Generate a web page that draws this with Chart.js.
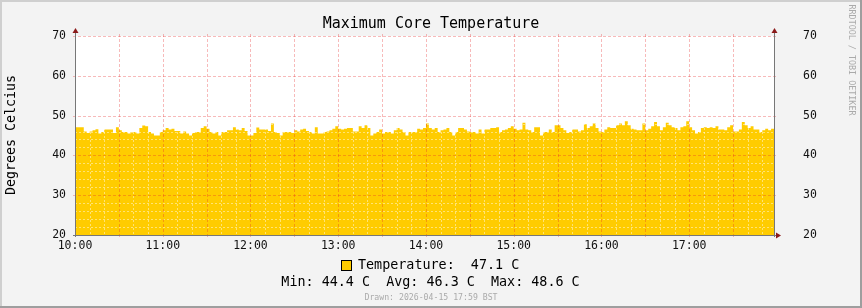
<!DOCTYPE html>
<html>
<head>
<meta charset="utf-8">
<script src="https://cdn.jsdelivr.net/npm/chart.js@4/dist/chart.umd.min.js"></script>
<style>
  html, body { margin: 0; padding: 0; background: #F3F3F3; }
  canvas { display: block; }
</style>
</head>
<body>
<canvas id="c" width="862" height="308"></canvas>
<script>
// ---- data ----
const chartTitle = 'Maximum Core Temperature';
const yAxisTitle = 'Degrees Celcius';
const watermark = 'RRDTOOL / TOBI OETIKER';
const drawnText = 'Drawn: 2026-04-15 17:59 BST';
const seriesName = 'Temperature';
const unit = 'C';
const stepMinutes = 2;          // sample spacing, minutes after 10:00
const rangeMinutes = [0, 478];  // visible time window
const hourLabels = ['10:00', '11:00', '12:00', '13:00', '14:00', '15:00', '16:00', '17:00'];
const yTickValues = [20, 30, 40, 50, 60, 70];
const statLabels = ['Min', 'Avg', 'Max'];
const statValues = [44.4, 46.3, 48.6];
const lastValue = [47.1];
const temps = [
  46.5,47.1,47.1,47.1,46.0,45.6,46.0,46.3,46.6,45.5,45.9,46.5,46.5,46.5,45.6,47.1,46.3,45.9,45.9,45.5,45.9,45.9,45.5,46.9,47.5,47.3,45.9,45.5,45.0,45.0,45.9,46.3,46.9,46.5,46.7,46.1,46.1,45.5,46.0,45.5,45.0,45.6,45.9,45.9,46.9,47.3,46.7,45.9,
  45.5,45.9,45.0,45.9,45.9,46.3,46.3,47.1,46.5,46.3,46.9,46.1,45.0,45.0,45.6,47.0,46.5,46.5,46.5,46.1,48.0,45.9,45.6,45.0,45.9,45.9,45.9,45.6,46.3,46.0,46.5,46.7,46.1,45.9,45.5,47.1,45.5,45.5,45.9,46.0,46.3,46.7,47.3,46.7,46.5,46.7,46.9,46.9,
  46.0,46.0,47.3,46.9,47.6,46.9,45.0,45.5,45.9,46.5,45.5,45.9,45.9,45.5,46.3,46.9,46.5,45.9,45.0,45.9,45.9,45.9,46.7,46.5,46.9,48.0,46.9,46.5,46.9,45.9,46.3,46.5,46.9,45.9,45.0,45.9,46.9,46.9,46.5,46.0,45.9,45.9,45.5,46.5,45.5,46.5,46.5,46.9,
  46.9,47.1,45.9,46.3,46.5,46.9,47.3,46.7,46.3,46.5,48.2,46.5,46.3,45.9,47.1,47.1,45.0,45.9,45.9,46.5,45.9,47.6,47.6,46.9,46.3,45.6,45.9,46.5,46.5,46.0,46.3,47.8,46.9,47.3,48.0,46.9,46.0,45.9,46.5,47.1,46.9,46.9,47.6,48.0,47.6,48.6,47.6,46.7,
  46.5,46.3,46.3,48.0,46.3,46.7,47.3,48.4,47.3,46.3,47.1,48.2,47.6,47.1,46.9,46.3,47.1,47.3,48.6,47.1,46.3,45.5,45.9,46.9,47.1,46.9,47.1,46.9,47.3,46.5,46.5,46.3,47.1,47.6,46.0,46.0,46.5,48.4,47.6,46.9,47.3,46.5,46.5,45.9,46.3,46.7,46.3,46.7
];

// ---- style ----
const MONO = '"DejaVu Sans Mono", "Liberation Mono", monospace';
const LW = 40, RW = 50, XH = 20;
const AREA = { left: 75, right: 774, top: 36, bottom: 235 };

const rrdPlugin = {
  id: 'rrd',
  beforeDraw(chart) {
    const { ctx, chartArea: a, width: W, height: H } = chart;
    ctx.save();
    ctx.fillStyle = '#F3F3F3'; ctx.fillRect(0, 0, W, H);
    ctx.fillStyle = '#CFCFCF'; ctx.fillRect(0, 0, W, 2); ctx.fillRect(0, 0, 2, H);
    ctx.fillStyle = '#9E9E9E'; ctx.fillRect(0, H - 2, W, 2); ctx.fillRect(W - 2, 0, 2, H);
    ctx.fillStyle = '#FFFFFF'; ctx.fillRect(a.left, a.top, a.right - a.left, a.bottom - a.top);
    ctx.restore();
  },
  afterDatasetsDraw(chart) {
    const { ctx, chartArea: a } = chart;
    const xs = chart.scales.x, ys = chart.scales.y;
    ctx.save();
    ctx.lineWidth = 1;
    // minor grid
    ctx.strokeStyle = 'rgba(255,255,255,0.45)';
    ctx.setLineDash([2, 2]);
    ctx.beginPath();
    for (let v = 22; v < 70; v += 2) {
      if (v % 10 === 0) continue;
      const y = Math.round(ys.getPixelForValue(v)) + 0.5;
      ctx.moveTo(a.left, y); ctx.lineTo(a.right, y);
    }
    for (let m = 10; m < rangeMinutes[1]; m += 10) {
      if (m % 30 === 0) continue;
      const x = Math.round(xs.getPixelForValue(m)) + 0.5;
      ctx.moveTo(x, a.top); ctx.lineTo(x, a.bottom);
    }
    ctx.stroke();
    // major grid
    ctx.strokeStyle = 'rgba(230,40,40,0.32)';
    ctx.setLineDash([3, 2]);
    ctx.beginPath();
    for (let v = 30; v <= 70; v += 10) {
      const y = Math.round(ys.getPixelForValue(v)) + 0.5;
      ctx.moveTo(a.left - 2, y); ctx.lineTo(a.right + 2, y);
    }
    for (let m = 30; m < rangeMinutes[1]; m += 30) {
      const x = Math.round(xs.getPixelForValue(m)) + 0.5;
      ctx.moveTo(x, a.top - 2); ctx.lineTo(x, a.bottom + 2);
    }
    ctx.stroke();
    ctx.setLineDash([]);
    // axes
    ctx.strokeStyle = '#777777';
    ctx.beginPath();
    ctx.moveTo(a.left + 0.5, a.bottom + 2); ctx.lineTo(a.left + 0.5, a.top - 4);
    ctx.moveTo(a.right + 0.5, a.bottom + 2); ctx.lineTo(a.right + 0.5, a.top - 4);
    ctx.moveTo(a.left - 2, a.bottom + 0.5); ctx.lineTo(a.right + 3, a.bottom + 0.5);
    ctx.stroke();
    // arrows
    ctx.fillStyle = '#8B1A1A';
    const up = (x) => { ctx.beginPath(); ctx.moveTo(x - 3, a.top - 3); ctx.lineTo(x + 3, a.top - 3); ctx.lineTo(x, a.top - 8); ctx.closePath(); ctx.fill(); };
    up(a.left + 0.5); up(a.right + 0.5);
    ctx.beginPath();
    ctx.moveTo(a.right + 2, a.bottom + 0.5 - 3); ctx.lineTo(a.right + 2, a.bottom + 0.5 + 3); ctx.lineTo(a.right + 7, a.bottom + 0.5); ctx.closePath(); ctx.fill();
    ctx.restore();
  },
  afterDraw(chart) {
    const { ctx, width: W } = chart;
    ctx.save();
    ctx.textBaseline = 'middle';
    // title
    ctx.fillStyle = '#000';
    ctx.textAlign = 'center';
    ctx.font = '15px ' + MONO;
    ctx.fillText(chartTitle, W / 2, 24.5);
    // y axis title
    ctx.save();
    ctx.translate(12, 135);
    ctx.rotate(-Math.PI / 2);
    ctx.font = '13.3px ' + MONO;
    ctx.fillText(yAxisTitle, 0, 0);
    ctx.restore();
    // watermark
    ctx.save();
    ctx.translate(851, 60);
    ctx.rotate(Math.PI / 2);
    ctx.fillStyle = '#AAAAAA';
    ctx.font = '8.4px ' + MONO;
    ctx.fillText(watermark, 0, 0);
    ctx.restore();
    // legend
    ctx.fillStyle = '#FFCC00';
    ctx.fillRect(341.5, 260.5, 10, 10);
    ctx.strokeStyle = '#000'; ctx.lineWidth = 1;
    ctx.strokeRect(341.5, 260.5, 10, 10);
    ctx.fillStyle = '#000';
    ctx.font = '13.4px ' + MONO;
    ctx.textAlign = 'left';
    ctx.fillText(seriesName + ':  ' + lastValue[0].toFixed(1) + ' ' + unit, 358, 266);
    ctx.textAlign = 'center';
    const statsLine = statLabels.map((l, i) => l + ': ' + statValues[i].toFixed(1) + ' ' + unit).join('  ');
    ctx.fillText(statsLine, 430.5, 282.5);
    ctx.fillStyle = '#AAAAAA';
    ctx.font = '8.2px ' + MONO;
    ctx.fillText(drawnText, 431, 297.5);
    ctx.restore();
  }
};

const tickFont = { family: MONO, size: 11.5 };
const yCommon = {
  type: 'linear', min: 20, max: 70,
  grid: { display: false, drawTicks: false },
  border: { display: false },
  afterBuildTicks: s => { s.ticks = yTickValues.map(v => ({ value: v })); },
  ticks: { font: tickFont, color: '#111', autoSkip: false, callback: v => String(v) }
};

new Chart(document.getElementById('c'), {
  type: 'line',
  data: {
    datasets: [{
      label: seriesName,
      data: temps.map((v, i) => ({ x: i * stepMinutes, y: v })),
      stepped: 'after',
      fill: 'start',
      backgroundColor: '#FFCC00',
      borderWidth: 0,
      pointRadius: 0
    }]
  },
  options: {
    responsive: false,
    animation: false,
    devicePixelRatio: 1,
    layout: { padding: { left: AREA.left - LW, right: 862 - AREA.right - RW, top: AREA.top, bottom: 308 - AREA.bottom - XH } },
    plugins: { legend: { display: false }, title: { display: false }, tooltip: { enabled: false } },
    scales: {
      x: {
        type: 'linear', min: rangeMinutes[0], max: rangeMinutes[1],
        grid: { display: false, drawTicks: false },
        border: { display: false },
        afterBuildTicks: s => { s.ticks = hourLabels.map((t, i) => ({ value: i * 60 })); },
        afterFit: s => { s.height = XH; },
        ticks: { font: tickFont, color: '#111', padding: 4, maxRotation: 0, autoSkip: false,
                 callback: v => hourLabels[Math.round(v / 60)] }
      },
      y: Object.assign({}, yCommon, { position: 'left', afterFit: s => { s.width = LW; },
        ticks: Object.assign({}, yCommon.ticks, { padding: 9 }) }),
      y2: Object.assign({}, yCommon, { position: 'right', afterFit: s => { s.width = RW; },
        ticks: Object.assign({}, yCommon.ticks, { padding: 29 }) })
    }
  },
  plugins: [rrdPlugin]
});
</script>
</body>
</html>
